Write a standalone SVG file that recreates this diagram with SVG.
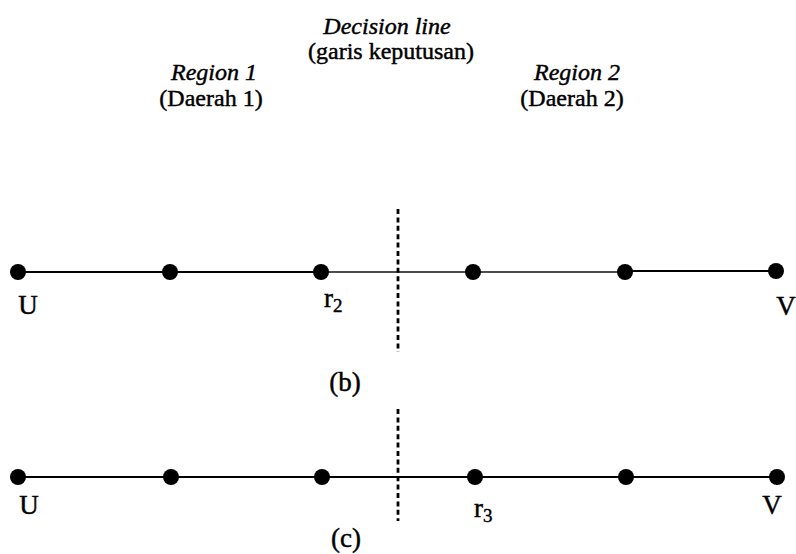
<svg xmlns="http://www.w3.org/2000/svg" width="796" height="554" viewBox="0 0 796 554">
  <style>
    text { font-family: "Liberation Serif", "Times New Roman", serif; fill: #000; stroke: #000; stroke-width: 0.45; }
    .cap { font-size: 24px; text-anchor: middle; }
    .it { font-style: italic; }
    .lbl { font-size: 27px; }
    .sub { font-size: 19px; }
    .seg { stroke: #000; stroke-width: 2.2; fill: none; }
    .thin { stroke: #111; stroke-width: 1.6; fill: none; }
    .dash { stroke: #000; stroke-width: 2.8; stroke-dasharray: 5 3.4; fill: none; }
    .dot { fill: #000; }
  </style>

  <!-- headings -->
  <g id="decision-caption">
    <text class="cap it" x="387" y="34">Decision line</text>
    <text class="cap" x="391" y="59">(garis keputusan)</text>
  </g>
  <g id="region1-caption">
    <text class="cap it" x="214" y="80">Region 1</text>
    <text class="cap" x="211" y="106">(Daerah 1)</text>
  </g>
  <g id="region2-caption">
    <text class="cap it" x="577" y="80">Region 2</text>
    <text class="cap" x="572" y="106">(Daerah 2)</text>
  </g>

  <!-- connectors: segments and decision lines -->
  <g id="connectors">
    <line class="seg" x1="18" y1="272" x2="321" y2="272"/>
    <line class="thin" x1="321" y1="272" x2="625" y2="272"/>
    <line class="seg" x1="625" y1="271" x2="776" y2="271"/>
    <line class="dash" x1="398" y1="209" x2="398" y2="352"/>

    <line class="seg" x1="18" y1="477" x2="776" y2="477"/>
    <line class="dash" x1="398" y1="409" x2="398" y2="521"/>
  </g>

  <!-- row (b) -->
  <g id="b-U"><circle class="dot" cx="18" cy="272" r="8"/><text class="lbl" x="28" y="314" text-anchor="middle">U</text></g>
  <g id="b-p1"><circle class="dot" cx="170" cy="272" r="8"/></g>
  <g id="b-r2"><circle class="dot" cx="321" cy="272" r="8"/><text class="lbl" x="324" y="307">r<tspan class="sub" dy="5">2</tspan></text></g>
  <g id="b-p3"><circle class="dot" cx="473" cy="272" r="8"/></g>
  <g id="b-p4"><circle class="dot" cx="625" cy="272" r="8"/></g>
  <g id="b-V"><circle class="dot" cx="776" cy="271" r="8"/><text class="lbl" x="786" y="315" text-anchor="middle">V</text></g>
  <g id="b-caption"><text class="lbl" x="345" y="391" text-anchor="middle">(b)</text></g>

  <!-- row (c) -->
  <g id="c-U"><circle class="dot" cx="18" cy="477" r="8"/><text class="lbl" x="29" y="514" text-anchor="middle">U</text></g>
  <g id="c-p1"><circle class="dot" cx="171" cy="477" r="8"/></g>
  <g id="c-p2"><circle class="dot" cx="322" cy="477" r="8"/></g>
  <g id="c-r3"><circle class="dot" cx="475" cy="477" r="8"/><text class="lbl" x="474" y="517">r<tspan class="sub" dy="5">3</tspan></text></g>
  <g id="c-p4"><circle class="dot" cx="626" cy="477" r="8"/></g>
  <g id="c-V"><circle class="dot" cx="777" cy="477" r="8"/><text class="lbl" x="772" y="514" text-anchor="middle">V</text></g>
  <g id="c-caption"><text class="lbl" x="346" y="547" text-anchor="middle">(c)</text></g>
</svg>
